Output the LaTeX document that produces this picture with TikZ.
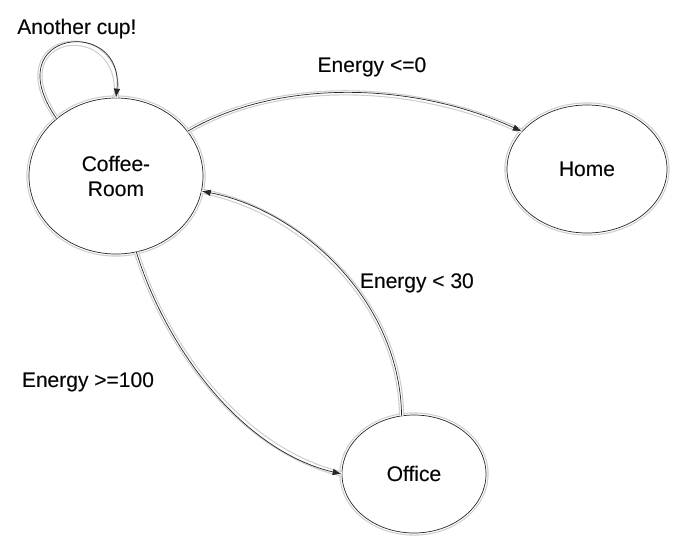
\documentclass[tikz,border=0pt]{standalone}
\usepackage{fontspec}
\setmainfont{Liberation Sans}
\usepackage[outline]{contour}
\usetikzlibrary{shapes.geometric,arrows.meta}
\newcommand{\glowtext}[1]{\rlap{\contourlength{2.3pt}\contour{black!18}{#1}}\contourlength{1.2pt}\contour{white}{#1}}
\tikzset{
  glowline/.style={preaction={draw=black!20,line width=5.2pt,-},
                   preaction={draw=white,line width=3pt,-},
                   draw=black!85,line width=0.7pt},
  state/.style={ellipse,glowline,fill=white,inner sep=0pt,align=center,
                font=\fontsize{21}{25}\selectfont},
  trans/.style={glowline,-{Latex[length=9pt,width=6.5pt]}},
  lbl/.style={font=\fontsize{21}{25}\selectfont,inner sep=0pt}
}
\begin{document}
\begin{tikzpicture}[x=1pt,y=-1pt]
\useasboundingbox (0,0) rectangle (676,547);
\node[state,minimum width=174pt,minimum height=156pt] (cr) at (116,176) {\glowtext{Coffee-}\\\glowtext{Room}};
\node[state,minimum width=160pt,minimum height=128pt] (home) at (587,169) {\glowtext{Home}};
\node[state,minimum width=144pt,minimum height=118pt] (off) at (414,474) {\glowtext{Office}};

\draw[trans] (cr.136) .. controls (-5,30) and (125,15) .. (cr.90);
\draw[trans] (cr.32) .. controls (275,80) and (410,80) .. (home.150);
\draw[trans] (off.102) .. controls (400,300) and (300,210) .. (cr.-10);
\draw[trans] (cr.-75) .. controls (165,345) and (240,450) .. (off.180);

\node[lbl] (l1) at (77,29) {\glowtext{Another cup!}};
\node[lbl] (l2) at (372,67) {\glowtext{Energy <=0}};
\node[lbl] (l3) at (417,283) {\glowtext{Energy < 30}};
\node[lbl] (l4) at (88,382) {\glowtext{Energy >=100}};
\end{tikzpicture}
\end{document}
